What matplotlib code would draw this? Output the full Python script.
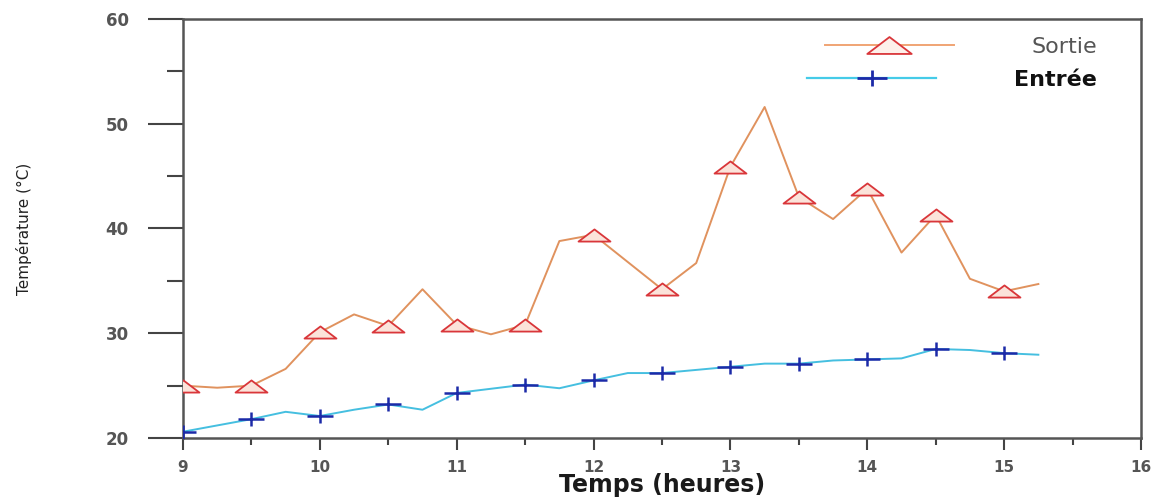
import matplotlib
matplotlib.use("Agg")
import matplotlib.pyplot as plt
from matplotlib.path import Path
from matplotlib.lines import Line2D
from matplotlib.ticker import MultipleLocator

# temps en heures, relevé toutes les 15 min
heures = [9.0, 9.25, 9.5, 9.75, 10.0, 10.25, 10.5, 10.75, 11.0, 11.25, 11.5, 11.75,
          12.0, 12.25, 12.5, 12.75, 13.0, 13.25, 13.5, 13.75, 14.0, 14.25, 14.5, 14.75,
          15.0, 15.25]

t_sortie = [25.0, 24.8, 25.0, 26.6, 30.1, 31.8, 30.7, 34.2, 30.8, 29.9, 30.8, 38.8,
            39.4, 36.8, 34.2, 36.7, 45.9, 51.6, 43.0, 40.9, 43.8, 37.7, 41.3, 35.2,
            34.0, 34.7]

t_entree = [20.6, 21.2, 21.8, 22.5, 22.1, 22.7, 23.2, 22.7, 24.3, 24.7, 25.1, 24.75,
            25.5, 26.2, 26.2, 26.5, 26.8, 27.1, 27.1, 27.4, 27.5, 27.6, 28.5, 28.4,
            28.1, 27.95]

x_ticks = [9, 10, 11, 12, 13, 14, 15, 16]
y_ticks = [20, 30, 40, 50, 60]

# marqueurs : triangle aplati et croix large
tri = Path([(-1, -0.38), (1, -0.38), (0, 0.38), (-1, -0.38)],
           [Path.MOVETO, Path.LINETO, Path.LINETO, Path.CLOSEPOLY])
croix = Path([(-1, 0), (1, 0), (0, -0.5), (0, 0.5)],
             [Path.MOVETO, Path.LINETO, Path.MOVETO, Path.LINETO])

fig = plt.figure(figsize=(11.65, 4.99), dpi=100)
ax = fig.add_axes([183 / 1165, 61 / 499, 958 / 1165, 419 / 499])

ax.plot(heures, t_sortie, color='#e0925e', lw=1.4, marker=tri, markevery=2,
        ms=23, mfc='#fbe3da', mec='#d9363a', mew=1.3, zorder=3)
ax.plot(heures, t_entree, color='#45bfe0', lw=1.4, marker=croix, markevery=2,
        ms=19, mfc='none', mec='#1c2aa8', mew=1.8, zorder=3)

ax.set_xlim(9, 16)
ax.set_ylim(20, 60)
ax.set_xticks(x_ticks)
ax.set_yticks(y_ticks)
ax.xaxis.set_minor_locator(MultipleLocator(0.5))
ax.yaxis.set_minor_locator(MultipleLocator(5))

for s in ax.spines.values():
    s.set_color('#555555')
    s.set_linewidth(1.8)

ax.tick_params(axis='y', which='major', direction='out', length=25, width=1.5,
               color='#444444', pad=14, labelsize=12, labelcolor='#555555')
ax.tick_params(axis='y', which='minor', direction='out', length=11.5, width=1.5,
               color='#444444')
ax.tick_params(axis='x', which='major', direction='out', length=8.5, width=1.5,
               color='#444444', pad=7, labelsize=11, labelcolor='#555555')
ax.tick_params(axis='x', which='minor', direction='out', length=5, width=1.5,
               color='#444444')
for lab in ax.get_xticklabels() + ax.get_yticklabels():
    lab.set_fontweight('bold')

ax.set_xlabel('Temps (heures)', fontsize=17, fontweight='bold', color='#1a1a1a',
              va='center')
ax.xaxis.set_label_coords(0.5, -0.113)
ax.set_ylabel('Température (°C)', fontsize=11, color='#222222', va='center')
ax.yaxis.set_label_coords(-0.166, 0.5)

# légende : deux lignes alignées à droite
h_sortie = Line2D([], [], color='#f0a474', lw=1.4, marker=tri, ms=32,
                  mfc='#fdf0ea', mec='#d9363a', mew=1.3)
h_entree = Line2D([], [], color='#45cbe8', lw=1.6, marker=croix, ms=22,
                  mfc='none', mec='#1c2aa8', mew=2)
leg1 = ax.legend([h_sortie], ['Sortie'], loc='center right',
                 bbox_to_anchor=(0.954, 0.933), frameon=False, fontsize=16,
                 handlelength=5.8, handletextpad=3.5, borderpad=0, borderaxespad=0)
leg1.get_texts()[0].set_color('#555555')
ax.add_artist(leg1)
leg2 = ax.legend([h_entree], ['Entrée'], loc='center right',
                 bbox_to_anchor=(0.954, 0.854), frameon=False, fontsize=16,
                 handlelength=5.8, handletextpad=3.5, borderpad=0, borderaxespad=0)
leg2.get_texts()[0].set_fontweight('bold')
leg2.get_texts()[0].set_color('#111111')

fig.savefig('out.png', dpi=100)
